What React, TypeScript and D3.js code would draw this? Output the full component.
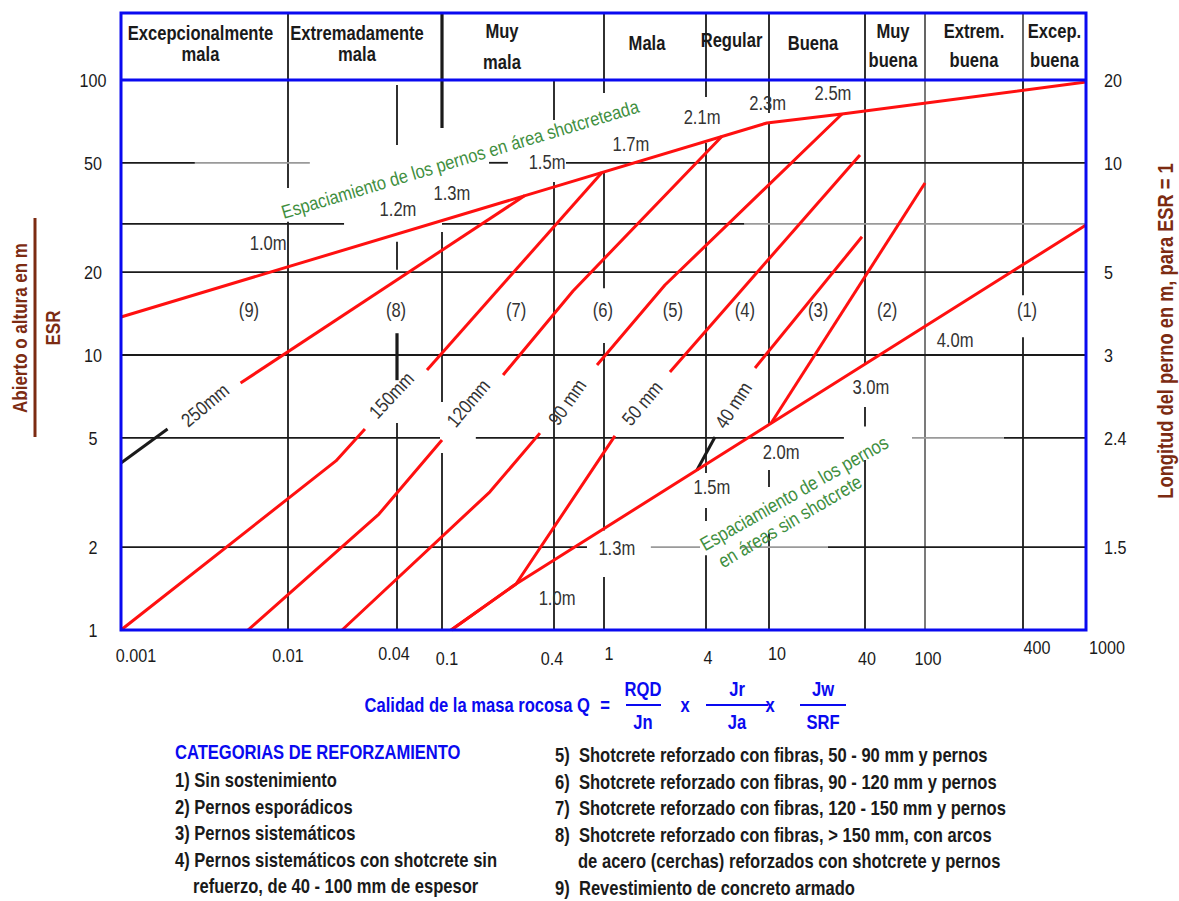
import React from "react";
import * as d3 from "d3";

// ---- Axis values -------------------------------------------------------
// Rock mass quality Q (bottom axis); the drawn grid is not evenly spaced,
// so the log scale is calibrated piecewise at each labelled value.
const qTicks = [0.001, 0.01, 0.04, 0.1, 0.4, 1, 4, 10, 40, 100, 400, 1000];
const qTickLabels = ["0.001", "0.01", "0.04", "0.1", "0.4", "1", "4", "10", "40", "100", "400", "1000"];

// Span or height / ESR (left axis)
const spanTicks = [1, 2, 5, 10, 20, 50, 100];
const spanTickLabels = ["1", "2", "5", "10", "20", "50", "100"];

// Bolt length for ESR = 1 (right axis), set against the span values
const boltTickSpans = [2, 5, 10, 20, 50, 100];
const boltTickLabels = ["1.5", "2.4", "3", "5", "10", "20"];

// ---- Rock quality classes (header band) --------------------------------
const classBounds = [0.001, 0.01, 0.1, 1, 4, 10, 40, 100, 400, 1000];
const classNames = [
  ["Excepcionalmente", "mala"],
  ["Extremadamente", "mala"],
  ["Muy", "mala"],
  ["Mala"],
  ["Regular"],
  ["Buena"],
  ["Muy", "buena"],
  ["Extrem.", "buena"],
  ["Excep.", "buena"],
];

// ---- Bolt spacing envelopes [Q, span/ESR] ------------------------------
const spacingShotcrete: [number, number][] = [
  [0.001, 13.75], [9.7, 69.8], [28.7, 75.2], [1000, 98.3],
];
const spacingShotcreteLabels = ["1.0m", "1.2m", "1.3m", "1.5m", "1.7m", "2.1m", "2.3m", "2.5m"];
const spacingShotcreteAt: [number, number][] = [
  [0.0076, 25.5], [0.0408, 33.9], [0.113, 38.8], [0.367, 50.3],
  [1.44, 58.5], [3.79, 73.4], [9.8, 82.5], [25.2, 89.7],
];

const spacingPlain: [number, number][] = [[0.112, 1], [0.25, 1.47], [1000, 29.7]];
const spacingPlainLabels = ["1.0m", "1.3m", "1.5m", "2.0m", "3.0m", "4.0m"];
const spacingPlainAt: [number, number][] = [
  [0.423, 1.31], [1.19, 1.99], [4.36, 3.31], [11.9, 4.44], [43.8, 7.65], [153, 11.34],
];

// ---- Shotcrete thickness boundaries between support categories ---------
const thicknessLabels = ["250mm", "150mm", "120mm", "90 mm", "50 mm", "40 mm"];
const thicknessLabelAt: [number, number][] = [
  [0.00318, 6.58], [0.0371, 7.15], [0.138, 6.69], [0.5075, 6.75], [1.676, 6.69], [5.93, 6.58],
];
const thicknessLower: [number, number][][] = [
  [[0.001, 4.05], [0.0019, 5.38]],
  [[0.001, 1], [0.0184, 4.12], [0.0266, 5.38]],
  [[0.00576, 1], [0.0318, 2.64], [0.1, 4.91]],
  [[0.0199, 1], [0.181, 3.18], [0.336, 5.2]],
  [[0.112, 1], [0.25, 1.47], [1.16, 5.08]],
  [[3.54, 3.82], [4.56, 5.03]],
];
const thicknessUpper: [number, number][][] = [
  [[0.0052, 7.91], [0.279, 38.0]],
  [[0.0737, 8.82], [0.964, 46.1]],
  [[0.213, 8.46], [0.567, 17.1], [5.05, 62.4]],
  [[0.88, 9.2], [2.29, 17.97], [28.7, 75.2]],
  [[2.45, 8.68], [37.2, 53.4]],
  [[8.16, 8.97], [38.3, 26.9]],
];
// Boundary between categories (3) and (2)
const boundary32: [number, number][] = [[10.3, 5.65], [100, 42.2]];

// ---- Support category numbers ------------------------------------------
const categoryLabels = ["(9)", "(8)", "(7)", "(6)", "(5)", "(4)", "(3)", "(2)", "(1)"];
const categoryQ = [0.00584, 0.0395, 0.25, 0.98, 2.55, 7.05, 20.3, 56, 424];
const categorySpan = 14.6;

// ---- Grid segments ------------------------------------------------------
const vGridQ = [0.01, 0.04, 0.1, 0.4, 1, 4, 10, 40, 100, 400];
const vGridSpans: [number, number][][] = [
  [[100, 40.5], [30.5, 1]],
  [[95.9, 58.0], [25.8, 20.4], [12.0, 8.1], [5.66, 1]],
  [[100, 66.9], [28.0, 6.75], [4.4, 1]],
  [[100, 71.5], [42.6, 1]],
  [[100, 89.7], [46.3, 17.5], [11.06, 2.3], [1.56, 1]],
  [[100, 86.8], [59.0, 3.72], [2.78, 2.49], [1.87, 1]],
  [[100, 75.9], [70.4, 5.57], [3.82, 3.31], [2.25, 1]],
  [[100, 9.2], [6.47, 5.5], [4.15, 1]],
  [[100, 1]],
  [[100, 16.5], [11.6, 1]],
];

const hGridSpan = [50, 30, 20, 10, 5, 2];
const hGridRuns: [number, number][][] = [
  [[0.001, 0.00277], [0.179, 0.226], [0.498, 1000]],
  [[0.001, 0.0204], [0.1, 7]],
  [[0.001, 1000]],
  [[0.001, 1000]],
  [[0.001, 0.096], [0.152, 29.5], [305, 1000]],
  [[0.001, 0.732], [23.4, 1000]],
];
const hGridFaintRuns: [number, number][][] = [
  [[0.00277, 0.0132]],
  [[7, 1000]],
  [],
  [],
  [[82, 305]],
  [[1.89, 3.69], [6.56, 23.4]],
];

// ---- Legend ---------------------------------------------------------------
const legendTitle = "CATEGORIAS DE REFORZAMIENTO";
const legendLeft = [
  "1) Sin sostenimiento",
  "2) Pernos esporádicos",
  "3) Pernos sistemáticos",
  "4) Pernos sistemáticos con shotcrete sin",
  "refuerzo, de 40 - 100 mm de espesor",
];
const legendRight = [
  "5)  Shotcrete reforzado con fibras, 50 - 90 mm y pernos",
  "6)  Shotcrete reforzado con fibras, 90 - 120 mm y pernos",
  "7)  Shotcrete reforzado con fibras, 120 - 150 mm y pernos",
  "8)  Shotcrete reforzado con fibras, > 150 mm, con arcos",
  "de acero (cerchas) reforzados con shotcrete y pernos",
  "9)  Revestimiento de concreto armado",
];

// ---- Layout & style -----------------------------------------------------
const W = 1179;
const H = 901;
const frame = { left: 121, right: 1086, headerTop: 13, top: 80, bottom: 630 };
const qStops = [121, 288, 397, 442, 554, 604, 706, 769, 865, 925, 1023, 1086];
const FONT = "'Liberation Sans', Arial, Helvetica, sans-serif";
const SQUEEZE = 0.85; // horizontal compression for a narrow typeface look
const RED = "#ff1010";
const BLUE = "#0a0af0";
const BROWN = "#7c2b12";
const GREEN = "#3f8f3f";
const INK = "#1a1a1a";
const LABEL = "#333";

const xTickDx = [15, 0, -3, 5, -2, 5, 2, 8, 2, 3, 14, 21];
const xTickBase = [662, 662, 660, 665, 665, 660, 664, 660, 665, 665, 654, 654];
const headerDx = [-4, -8, -21, -8, -6, -4, -2, 0, 0];
const thicknessAngle = [-40, -47, -50, -55, -50, -57];
const lowerStroke = [INK, RED, RED, RED, RED, INK];

type NProps = {
  x: number;
  y: number;
  r?: number;
  size: number;
  bold?: boolean;
  fill?: string;
  anchor?: "start" | "middle" | "end";
  mid?: boolean;
  len?: number;
  children: React.ReactNode;
};

// Text drawn with a horizontally condensed face
function NText({ x, y, r = 0, size, bold, fill = INK, anchor = "start", mid, len, children }: NProps) {
  return (
    <text
      transform={`translate(${x},${y}) rotate(${r}) scale(${SQUEEZE},1)`}
      fontSize={size}
      fontWeight={bold ? "bold" : "normal"}
      fill={fill}
      textAnchor={anchor}
      dy={mid ? "0.36em" : undefined}
      textLength={len ? len / SQUEEZE : undefined}
      lengthAdjust={len ? "spacingAndGlyphs" : undefined}
      style={{ whiteSpace: "pre" }}
    >
      {children}
    </text>
  );
}

export default function App() {
  const x = d3.scaleLog().domain(qTicks).range(qStops);
  const y = d3.scaleLog().domain([1, 100]).range([frame.bottom, frame.top]);
  const line = d3
    .line<[number, number]>()
    .x((d) => x(d[0]))
    .y((d) => y(d[1]));

  const gridStroke = (q: number) => (q === 100 ? "#6d6d6d" : INK);

  return (
    <svg
      width={W}
      height={H}
      viewBox={`0 0 ${W} ${H}`}
      style={{ position: "absolute", left: 0, top: 0, background: "#fff" }}
      fontFamily={FONT}
    >
      <rect x={0} y={0} width={W} height={H} fill="#fff" />

      {/* vertical grid */}
      {vGridQ.map((q, i) =>
        vGridSpans[i].map((s, j) => (
          <line
            key={`v${i}-${j}`}
            x1={x(q)}
            x2={x(q)}
            y1={y(s[0])}
            y2={y(s[1])}
            stroke={gridStroke(q)}
            strokeWidth={(q === 0.1 && j === 0) || (q === 0.04 && j === 2) ? 3.2 : 1.8}
          />
        ))
      )}

      {/* horizontal grid */}
      {hGridSpan.map((s, i) => (
        <g key={`h${i}`}>
          {hGridRuns[i].map((r, j) => (
            <line key={j} x1={x(r[0])} x2={x(r[1])} y1={y(s)} y2={y(s)} stroke={INK} strokeWidth={1.8} />
          ))}
          {hGridFaintRuns[i].map((r, j) => (
            <line key={`f${j}`} x1={x(r[0])} x2={x(r[1])} y1={y(s)} y2={y(s)} stroke="#9a9a9a" strokeWidth={1.8} />
          ))}
        </g>
      ))}

      {/* header class dividers */}
      {classBounds.slice(1, -1).map((q, i) => (
        <line
          key={`hd${i}`}
          x1={x(q)}
          x2={x(q)}
          y1={frame.headerTop}
          y2={frame.top}
          stroke={q === 100 || q === 400 ? "#555" : INK}
          strokeWidth={q === 0.1 ? 3.2 : 1.8}
        />
      ))}
      {classNames.map((names, i) => {
        const cx = (x(classBounds[i]) + x(classBounds[i + 1])) / 2 + headerDx[i];
        const bases = names.length === 1 ? (i === 4 ? [47] : [50]) : i < 2 ? [40, 61] : i === 2 ? [38, 69] : [38, 67];
        return (
          <g key={`cn${i}`}>
            {names.map((n, k) => (
              <NText key={k} x={cx} y={bases[k]} size={19.5} bold anchor="middle">
                {n}
              </NText>
            ))}
          </g>
        );
      })}

      {/* support boundaries */}
      {thicknessLower.map((pts, i) => (
        <path key={`tl${i}`} d={line(pts) ?? ""} fill="none" stroke={lowerStroke[i]} strokeWidth={3} strokeLinejoin="round" />
      ))}
      {thicknessUpper.map((pts, i) => (
        <path key={`tu${i}`} d={line(pts) ?? ""} fill="none" stroke={RED} strokeWidth={3} strokeLinejoin="round" />
      ))}
      <path d={line(boundary32) ?? ""} fill="none" stroke={RED} strokeWidth={3} />
      <path d={line(spacingShotcrete) ?? ""} fill="none" stroke={RED} strokeWidth={3} strokeLinejoin="round" />
      <path d={line(spacingPlain) ?? ""} fill="none" stroke={RED} strokeWidth={3} strokeLinejoin="round" />

      {/* frame */}
      <rect
        x={frame.left}
        y={frame.headerTop}
        width={frame.right - frame.left}
        height={frame.bottom - frame.headerTop}
        fill="none"
        stroke={BLUE}
        strokeWidth={3}
      />
      <line x1={frame.left} x2={frame.right} y1={y(100)} y2={y(100)} stroke={BLUE} strokeWidth={3} />

      {/* thickness labels */}
      {thicknessLabels.map((t, i) => (
        <NText
          key={`tt${i}`}
          x={x(thicknessLabelAt[i][0])}
          y={y(thicknessLabelAt[i][1])}
          r={thicknessAngle[i]}
          size={19.5}
          fill={LABEL}
          anchor="middle"
          mid
        >
          {t}
        </NText>
      ))}

      {/* spacing labels */}
      {spacingShotcreteLabels.map((t, i) => (
        <NText key={`ss${i}`} x={x(spacingShotcreteAt[i][0])} y={y(spacingShotcreteAt[i][1])} size={19.5} fill={LABEL} anchor="middle" mid>
          {t}
        </NText>
      ))}
      {spacingPlainLabels.map((t, i) => (
        <NText key={`sp${i}`} x={x(spacingPlainAt[i][0])} y={y(spacingPlainAt[i][1])} size={19.5} fill={LABEL} anchor="middle" mid>
          {t}
        </NText>
      ))}

      {/* category numbers */}
      {categoryLabels.map((t, i) => (
        <NText key={`c${i}`} x={x(categoryQ[i])} y={y(categorySpan)} size={19.5} fill={LABEL} anchor="middle" mid>
          {t}
        </NText>
      ))}

      {/* envelope captions */}
      <NText x={x(0.125)} y={y(51.6)} r={-16.7} size={19} fill={GREEN} anchor="middle" mid len={372}>
        Espaciamiento de los pernos en área shotcreteada
      </NText>
      <NText x={x(14.35)} y={y(3.15)} r={-29.5} size={19.5} fill={GREEN} anchor="middle" mid>
        Espaciamiento de los pernos
      </NText>
      <NText x={x(13.5)} y={y(2.49)} r={-30.5} size={19.5} fill={GREEN} anchor="middle" mid>
        en áreas sin shotcrete
      </NText>

      {/* left axis */}
      {spanTicks.map((v, i) => (
        <NText key={`ly${i}`} x={93} y={y(v)} size={19} anchor="middle" mid>
          {spanTickLabels[i]}
        </NText>
      ))}
      {/* right axis */}
      {boltTickSpans.map((v, i) => (
        <NText key={`ry${i}`} x={1104} y={y(v)} size={19} mid>
          {boltTickLabels[i]}
        </NText>
      ))}
      {/* bottom axis */}
      {qTicks.map((q, i) => (
        <NText key={`bx${i}`} x={x(q) + xTickDx[i]} y={xTickBase[i]} size={19} anchor="middle">
          {qTickLabels[i]}
        </NText>
      ))}

      {/* axis titles */}
      <NText x={20} y={328} r={-90} size={20} bold fill={BROWN} anchor="middle" mid>
        Abierto o altura en m
      </NText>
      <line x1={35} x2={35} y1={218} y2={437} stroke={BROWN} strokeWidth={3} />
      <NText x={53} y={328} r={-90} size={20} bold fill={BROWN} anchor="middle" mid>
        ESR
      </NText>
      <NText x={1165} y={331} r={-90} size={21.5} bold fill={BROWN} anchor="middle" mid>
        Longitud del perno en m, para ESR = 1
      </NText>

      {/* Q definition */}
      <NText x={590} y={712} size={19.5} bold fill={BLUE} anchor="end">Calidad de la masa rocosa Q</NText>
      <NText x={605} y={712} size={19.5} bold fill={BLUE} anchor="middle">=</NText>
      <NText x={643} y={696} size={19.5} bold fill={BLUE} anchor="middle">RQD</NText>
      <NText x={643} y={729} size={19.5} bold fill={BLUE} anchor="middle">Jn</NText>
      <line x1={626} x2={661} y1={705} y2={705} stroke={BLUE} strokeWidth={2} />
      <NText x={685} y={712} size={19.5} bold fill={BLUE} anchor="middle">x</NText>
      <NText x={737} y={696} size={19.5} bold fill={BLUE} anchor="middle">Jr</NText>
      <NText x={737} y={729} size={19.5} bold fill={BLUE} anchor="middle">Ja</NText>
      <line x1={706} x2={768} y1={705} y2={705} stroke={BLUE} strokeWidth={2} />
      <NText x={770} y={712} size={19.5} bold fill={BLUE} anchor="middle">x</NText>
      <NText x={823} y={696} size={19.5} bold fill={BLUE} anchor="middle">Jw</NText>
      <NText x={823} y={729} size={19.5} bold fill={BLUE} anchor="middle">SRF</NText>
      <line x1={800} x2={846} y1={705} y2={705} stroke={BLUE} strokeWidth={2} />

      {/* legend */}
      <NText x={175} y={759} size={19.5} bold fill={BLUE}>
        {legendTitle}
      </NText>
      {legendLeft.map((t, i) => (
        <NText key={`ll${i}`} x={i === 4 ? 193 : 175} y={787 + i * 26.5} size={19.5} bold>
          {t}
        </NText>
      ))}
      {legendRight.map((t, i) => (
        <NText key={`lr${i}`} x={i === 4 ? 578 : 555} y={762 + i * 26.6} size={19.5} bold>
          {t}
        </NText>
      ))}
    </svg>
  );
}
